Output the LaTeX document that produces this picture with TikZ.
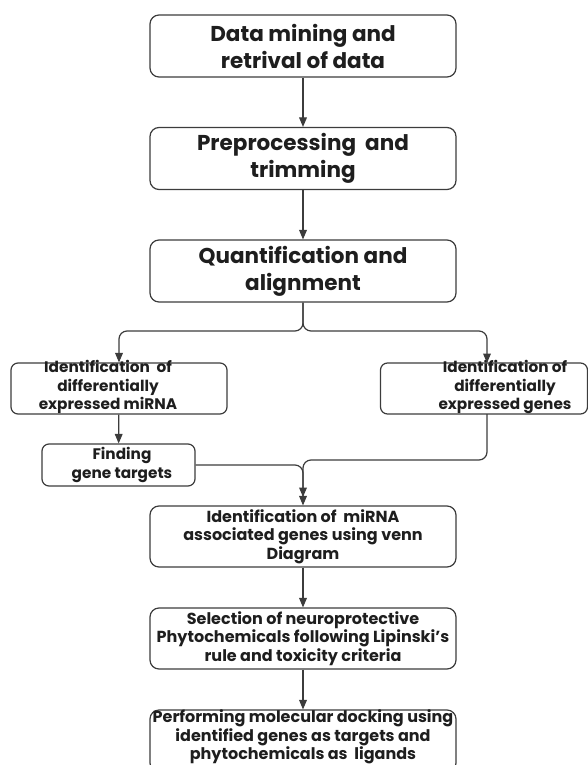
\documentclass[tikz,border=0pt]{standalone}
\usepackage{fontspec}
\setmainfont{Poppins}
\usepackage{tikz}
\usetikzlibrary{arrows,shapes}
\definecolor{linegray}{HTML}{3C3C3C}
\definecolor{textgray}{HTML}{1E1E1E}
\tikzset{>=triangle 45}
\tikzset{
  stepbig/.style={draw=linegray,line width=1.2pt,rounded corners=9pt,minimum width=306pt,minimum height=62pt,align=center,inner sep=0pt,text=textgray,font=\fontsize{21.5}{27}\selectfont\bfseries},
  stepmid/.style={draw=linegray,line width=1.2pt,rounded corners=9pt,minimum width=306pt,minimum height=61pt,align=center,inner sep=0pt,text=textgray,font=\fontsize{16}{18.3}\selectfont\bfseries},
  stepsmall/.style={draw=linegray,line width=1.2pt,rounded corners=7pt,inner sep=0pt},
  steptext/.style={align=center,inner sep=0pt,text=textgray,font=\fontsize{15.3}{18.7}\selectfont\bfseries},
  flow/.style={draw=linegray,line width=1.2pt,->,rounded corners=8pt}
}

\begin{document}
\begin{tikzpicture}[x=1pt,y=-1pt]

\def\xMid{303}
\def\xLeft{119}
\def\xRight{487}

\useasboundingbox (0,0) rectangle (588,765);
\clip (0,0) rectangle (588,765);

% main column
\node[stepbig] (mining) at (\xMid,46) {Data mining and\\retrival of data};
\node[stepbig] (preproc) at (\xMid,158.5) {Preprocessing\ \ and\\trimming};
\node[stepbig] (quant) at (\xMid,271) {Quantification and\\alignment};
% two branches
\node[stepsmall,minimum width=216pt,minimum height=51pt] (mirna) at (\xLeft,388.5) {};
\node[steptext] (mirnatext) at (108,387) {Identification\ \ of\\differentially\\expressed miRNA};
\node[stepsmall,minimum width=207pt,minimum height=51pt] (genes) at (484,388.5) {};
\node[steptext] (genestext) at (505,387) {Identification of\\differentially\\expressed genes};
\node[stepsmall,minimum width=153pt,minimum height=42pt] (targets) at (118.5,465) {};
\node[steptext] (targetstext) at (122,465) {Finding\\gene targets};
% lower column
\node[stepmid] (venn) at (\xMid,536.5) {Identification of\ \ miRNA\\associated genes using venn\\Diagram};
\node[stepmid] (select) at (\xMid,638.5) {Selection of neuroprotective\\Phytochemicals following Lipinski's\\rule and toxicity criteria};
\node[stepmid,minimum height=62pt] (docking) at (\xMid,741) {};
\node[steptext,font=\fontsize{16}{18.3}\selectfont\bfseries] (dockingtext) at (\xMid,737) {Performing molecular docking using\\identified genes as targets and\\phytochemicals as\ \ ligands};

\coordinate (split) at (\xMid,331);
\coordinate (join) at (\xMid,460);
\coordinate (joinend) at (\xMid,497);

% connectors
\draw[flow] (mining) -- (preproc);
\draw[flow] (preproc) -- (quant);
\draw[flow] (quant) -- (split) -- (split -| mirna.north) -- (mirna.north);
\draw[flow] (quant) -- (split) -- (split -| \xRight,0) -- (\xRight,363);
\draw[flow] (mirna) -- (targets);
\draw[flow] (targets.east) -- (targets.east -| joinend) -- (joinend);
\draw[flow] (\xRight,414) -- (join -| \xRight,0) -- (join) -- (venn.north);
\draw[flow] (venn) -- (select);
\draw[flow] (select) -- (docking);

\end{tikzpicture}
\end{document}
